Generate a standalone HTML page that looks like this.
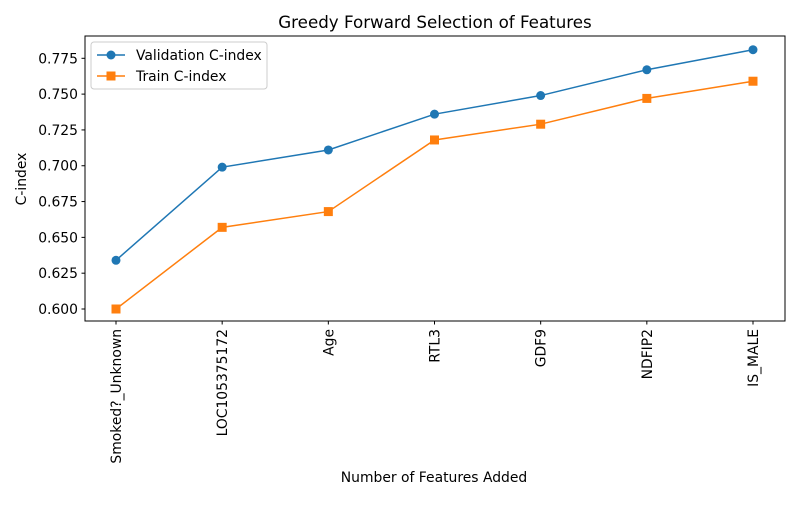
<!DOCTYPE html>
<html><head><meta charset="utf-8"><style>
body{margin:0;background:#fff;font-family:"Liberation Sans","DejaVu Sans",sans-serif}
text{font-family:"DejaVu Sans","Liberation Sans",sans-serif;fill:#000}
</style></head><body>
<svg id="chart" width="800" height="500" xmlns="http://www.w3.org/2000/svg">
<rect width="800" height="500" fill="#fff"/>
<text x="435" y="28" font-size="16.7" text-anchor="middle">Greedy Forward Selection of Features</text>
<g id="yticks"></g><g id="xticks"></g><g id="series"></g>
<rect x="85" y="36" width="700" height="285" fill="none" stroke="#000" stroke-width="1"/>
<text transform="translate(26,179) rotate(-90)" font-size="13.9" text-anchor="middle">C-index</text>
<text x="434" y="482" font-size="13.9" text-anchor="middle">Number of Features Added</text>
<g>
<rect x="91" y="42" width="176" height="47" rx="3" fill="#fff" stroke="#ccc"/>
<line x1="97" y1="55" x2="125" y2="55" stroke="#1f77b4" stroke-width="1.5"/>
<circle cx="111" cy="55" r="4.5" fill="#1f77b4"/>
<text x="136" y="60" font-size="13.9">Validation C-index</text>
<line x1="97" y1="76" x2="125" y2="76" stroke="#ff7f0e" stroke-width="1.5"/>
<rect x="106.5" y="71.5" width="9" height="9" fill="#ff7f0e"/>
<text x="136" y="81" font-size="13.9">Train C-index</text>
</g>
</svg>
<script>
const categories=["Smoked?_Unknown","LOC105375172","Age","RTL3","GDF9","NDFIP2","IS_MALE"];
const validation=[0.634,0.699,0.711,0.736,0.749,0.767,0.781];
const train=[0.600,0.657,0.668,0.718,0.729,0.747,0.759];
const yTicks=[0.600,0.625,0.650,0.675,0.700,0.725,0.750,0.775];
const NS="http://www.w3.org/2000/svg";
function xs(i){return 116+i*(753-116)/(categories.length-1);}
function ys(v){return 309-(v-0.600)*(309-58.3)/0.175;}
function mk(t,a,p){const e=document.createElementNS(NS,t);for(const k in a)e.setAttribute(k,a[k]);p.appendChild(e);return e;}
const yg=document.getElementById('yticks'),xg=document.getElementById('xticks'),sg=document.getElementById('series');
yTicks.forEach(v=>{const y=ys(v);
const l=mk('line',{x1:81.5,x2:85,y1:y,y2:y,stroke:'#000'},yg);


const t=mk('text',{x:78,y:y+5,'font-size':13.9,'text-anchor':'end'},yg);t.textContent=v.toFixed(3);

});
categories.forEach((c,i)=>{const x=xs(i);
const l=mk('line',{x1:x,x2:x,y1:321,y2:324.5,stroke:'#000'},xg);


const t=mk('text',{transform:`translate(${x+5},329) rotate(-90)`,'font-size':13.9,'text-anchor':'end'},xg);t.textContent=c;

});
function series(vals,color,sq,name){
const pl=mk('polyline',{points:vals.map((v,i)=>xs(i)+','+ys(v)).join(' '),fill:'none',stroke:color,'stroke-width':1.5},sg);


vals.forEach((v,i)=>{let m;
if(sq)m=mk('rect',{x:xs(i)-4.5,y:ys(v)-4.5,width:9,height:9,fill:color},sg);
else m=mk('circle',{cx:xs(i),cy:ys(v),r:4.5,fill:color},sg);

});}
series(validation,'#1f77b4',false,'validation');
series(train,'#ff7f0e',true,'train');
</script>
</body></html>
